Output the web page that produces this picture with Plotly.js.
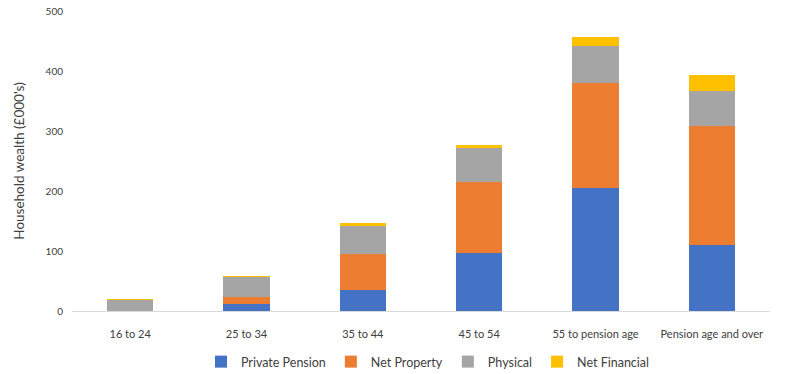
<!DOCTYPE html>
<html>
<head>
<meta charset="utf-8">
<script src="https://cdn.plot.ly/plotly-3.0.1.min.js"></script>
<style>html,body{margin:0;padding:0;background:#fff;}#chart{width:800px;height:374px;}</style>
</head>
<body>
<div id="chart"></div>
<script>
const categories = ["16 to 24", "25 to 34", "35 to 44", "45 to 54", "55 to pension age", "Pension age and over"];
const privatePension = [0, 11, 35, 97, 205, 110];
const netProperty = [0, 12, 60, 118, 175, 199];
const physical = [19, 34, 47, 57, 62, 58];
const netFinancial = [1.5, 1.5, 4, 5, 15, 26];
const yTicks = [0, 100, 200, 300, 400, 500];

const font = "Lato, 'Open Sans', sans-serif";
function series(name, values, color) {
  return {type: "bar", name: name, x: categories, y: values, marker: {color: color}, hoverinfo: "x+y+name"};
}
const data = [
  series("Private Pension", privatePension, "#4472c4"),
  series("Net Property", netProperty, "#ed7d31"),
  series("Physical", physical, "#a5a5a5"),
  series("Net Financial", netFinancial, "#ffc000")
];
const layout = {
  width: 800, height: 374,
  margin: {l: 72, r: 30, t: 11, b: 63, autoexpand: false},
  barmode: "stack",
  bargap: 0.6,
  paper_bgcolor: "#fff", plot_bgcolor: "#fff",
  font: {family: font, color: "#595959", size: 10},
  showlegend: true,
  legend: {orientation: "h", x: 0.51, xanchor: "center", y: -0.17, yanchor: "middle", font: {size: 12.5, color: "#404040"}, traceorder: "normal", itemwidth: 30, tracegroupgap: 0},
  xaxis: {
    type: "category", showgrid: false, showline: true, linecolor: "#d9d9d9", linewidth: 1,
    ticks: "outside", ticklen: 13, tickcolor: "rgba(0,0,0,0)",
    tickfont: {size: 11, color: "#404040"}, zeroline: false
  },
  yaxis: {
    range: [0, 500], tickvals: yTicks, ticktext: yTicks.map(String),
    showgrid: false, zeroline: false, showline: false,
    ticks: "outside", ticklen: 6, tickcolor: "rgba(0,0,0,0)",
    tickfont: {size: 10, color: "#404040"},
    title: {text: "Household wealth (£000's)", font: {size: 13.5, color: "#404040"}, standoff: 17}
  }
};
Plotly.newPlot("chart", data, layout, {displayModeBar: false, staticPlot: true});
</script>
</body>
</html>
